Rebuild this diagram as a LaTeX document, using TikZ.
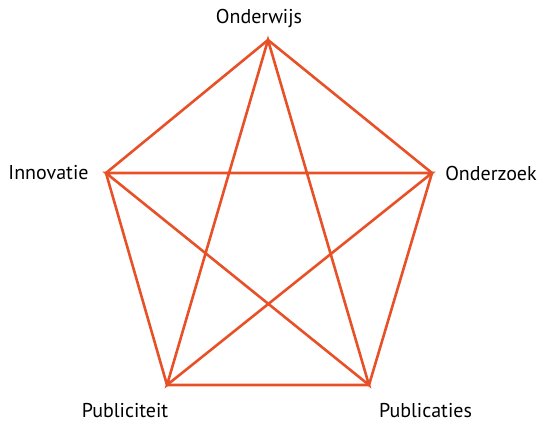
\documentclass[tikz,border=0pt]{standalone}
\usepackage{fontspec}
\setmainfont{PT Sans}
\definecolor{edgecol}{RGB}{232,80,40}
\begin{document}
\begin{tikzpicture}[x=1pt,y=-1pt,
  edge/.style={draw=edgecol,line width=2.6pt,line join=miter},
  lbl/.style={font=\fontsize{20}{24}\selectfont,text=black,inner sep=0pt}]
\useasboundingbox (0,0) rectangle (545,423);
\coordinate (T) at (268,40);
\coordinate (R) at (432,173);
\coordinate (BR) at (369,385);
\coordinate (BL) at (167,385);
\coordinate (L) at (106,173);
\draw[edge] (T) -- (R) -- (BR) -- (BL) -- (L) -- cycle;
\draw[edge] (T) -- (BR) -- (L) -- (R) -- (BL) -- cycle;
\node[lbl] (nT) at (259,18) {Onderwijs};
\node[lbl] (nR) at (491,173) {Onderzoek};
\node[lbl] (nL) at (48.5,173) {Innovatie};
\node[lbl] (nBL) at (125,411) {Publiciteit};
\node[lbl] (nBR) at (425.5,411) {Publicaties};
\end{tikzpicture}
\end{document}
